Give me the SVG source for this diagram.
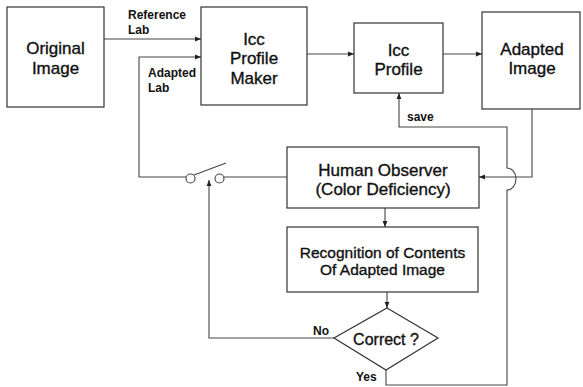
<svg xmlns="http://www.w3.org/2000/svg" width="583" height="387" viewBox="0 0 583 387">
<style>
.box{fill:#fff;stroke:#333;stroke-width:1.2}
.ln{fill:none;stroke:#444;stroke-width:1.1}
.t{font-family:"Liberation Sans",Arial,sans-serif;font-size:17px;fill:#111;stroke:#111;stroke-width:0.35;text-anchor:middle}
.s{font-family:"Liberation Sans",Arial,sans-serif;font-size:12px;font-weight:bold;fill:#111}
</style>
<defs>
<marker id="ah" viewBox="0 0 10 10" refX="10" refY="5" markerWidth="6" markerHeight="6" markerUnits="userSpaceOnUse" orient="auto">
<path d="M0,1 L10,5 L0,9 Z" fill="#222"/>
</marker>
</defs>
<rect width="583" height="387" fill="#fff"/>
<g id="connectors">
<path class="ln" d="M104,39 H201" marker-end="url(#ah)"/>
<path class="ln" d="M307,54 H354" marker-end="url(#ah)"/>
<path class="ln" d="M443,54 H482" marker-end="url(#ah)"/>
<path class="ln" d="M532,109 V177 H479" marker-end="url(#ah)"/>
<path class="ln" d="M386,370 V385 H507 V190 A9,11 0 0 0 507,168 V127 H399 V93" marker-end="url(#ah)"/>
<path class="ln" d="M287,177 H224"/>
<circle class="ln" cx="219.5" cy="178.5" r="4.5"/>
<circle class="ln" cx="190.5" cy="178.5" r="4.5"/>
<path class="ln" d="M194,175 L226,163"/>
<path class="ln" d="M186,177 H139 V57 H201" marker-end="url(#ah)"/>
<path class="ln" d="M385,208 V227" marker-end="url(#ah)"/>
<path class="ln" d="M387,292 V308" marker-end="url(#ah)"/>
<path class="ln" d="M334,338 H209 V180" marker-end="url(#ah)"/>
</g>
<g id="original-image">
<rect class="box" x="7" y="7" width="97" height="100"/>
<text class="t" x="55.5" y="54">Original</text>
<text class="t" x="55.5" y="74">Image</text>
</g>
<g id="icc-profile-maker">
<rect class="box" x="201" y="7" width="106" height="98"/>
<text class="t" x="254" y="45">Icc</text>
<text class="t" x="254" y="64">Profile</text>
<text class="t" x="254" y="84">Maker</text>
</g>
<g id="icc-profile">
<rect class="box" x="354" y="23" width="89" height="70"/>
<text class="t" x="398.5" y="56">Icc</text>
<text class="t" x="398.5" y="75">Profile</text>
</g>
<g id="adapted-image">
<rect class="box" x="482" y="12" width="98" height="97"/>
<text class="t" x="532" y="55">Adapted</text>
<text class="t" x="532" y="74">Image</text>
</g>
<g id="human-observer">
<rect class="box" x="287" y="147" width="192" height="61"/>
<text class="t" x="383" y="176">Human Observer</text>
<text class="t" x="383" y="195">(Color Deficiency)</text>
</g>
<g id="recognition">
<rect class="box" x="287" y="227" width="191" height="65"/>
<text class="t" x="382.5" y="258" style="font-size:15.5px">Recognition of Contents</text>
<text class="t" x="382.5" y="275" style="font-size:15.5px">Of Adapted Image</text>
</g>
<g id="correct">
<path class="box" d="M387,308 L438,338 L386,370 L334,338 Z"/>
<text class="t" x="386" y="345" style="font-size:16px">Correct ?</text>
</g>
<g id="labels">
<text class="s" x="128" y="19">Reference</text>
<text class="s" x="128" y="34">Lab</text>
<text class="s" x="148" y="77">Adapted</text>
<text class="s" x="148" y="92">Lab</text>
<text class="s" x="407" y="121">save</text>
<text class="s" x="313" y="335">No</text>
<text class="s" x="356" y="381">Yes</text>
</g>
</svg>
